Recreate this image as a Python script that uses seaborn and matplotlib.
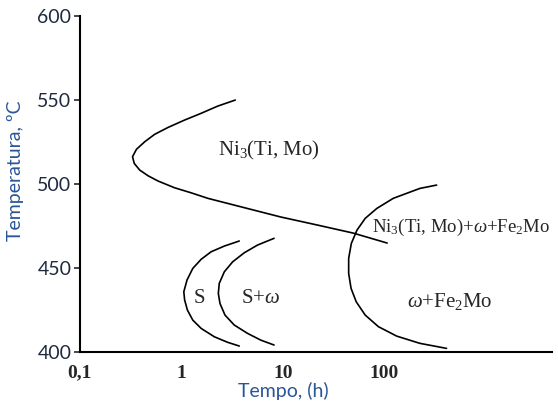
import pandas as pd
import matplotlib.pyplot as plt
import seaborn as sns

# curves: time (h) and temperature (C)
ni3_t = [3.41, 2.29, 1.57, 1.08, 0.741, 0.547, 0.437, 0.362, 0.331, 0.344, 0.390, 0.472, 0.591,
         0.859, 1.25, 1.83, 4.15, 9.56, 22.0, 49.7, 107]
ni3_T = [550, 546.4, 542.1, 538.1, 533.7, 529.6, 525.2, 520.7, 516.3, 512.3, 508.3, 504.9, 501.8,
         497.8, 494.8, 491.5, 486.0, 480.4, 475.6, 470.8, 464.9]

s_t = [3.73, 2.66, 1.97, 1.57, 1.30, 1.14, 1.06, 1.08, 1.15, 1.30, 1.57, 2.12, 2.87, 3.73]
s_T = [466.1, 463.1, 459.7, 455.2, 449.8, 442.9, 435.9, 431.0, 425.0, 419.0, 414.1, 409.1, 405.8, 403.6]

sw_t = [8.22, 5.65, 4.18, 3.21, 2.66, 2.37, 2.32, 2.41, 2.70, 3.33, 4.51, 6.09, 8.22]
sw_T = [467.7, 463.7, 459.1, 453.7, 447.8, 440.9, 434.9, 428.9, 422.0, 416.1, 411.1, 407.1, 404.2]

fe_t = [329, 225, 167, 123, 84.7, 65.1, 54.0, 47.5, 44.7, 44.7, 47.2, 53.1, 65.1, 87.9, 133, 225, 412]
fe_T = [499.4, 497.4, 494.5, 491.5, 485.5, 479.6, 472.6, 464.7, 455.8, 446.8, 437.9, 429.9, 422.0,
        415.1, 409.5, 405.2, 402.2]

x_ticks = [0.1, 1, 10, 100]
x_labels = ["0,1", "1", "10", "100"]
y_ticks = [400, 450, 500, 550, 600]

curves = pd.concat([
    pd.DataFrame({"t": ni3_t, "T": ni3_T, "curve": "ni3"}),
    pd.DataFrame({"t": s_t, "T": s_T, "curve": "s"}),
    pd.DataFrame({"t": sw_t, "T": sw_T, "curve": "sw"}),
    pd.DataFrame({"t": fe_t, "T": fe_T, "curve": "fe"}),
])

sns.set_style("ticks")
plt.rcParams["font.family"] = ["Lato", "DejaVu Sans"]
plt.rcParams["mathtext.fontset"] = "custom"
plt.rcParams["mathtext.rm"] = "Liberation Serif"
plt.rcParams["mathtext.it"] = "Liberation Serif:italic"

fig, ax = plt.subplots(figsize=(5.58, 4.01), dpi=100)
fig.subplots_adjust(left=0.143, right=0.989, top=0.960, bottom=0.122)

sns.lineplot(data=curves, x="t", y="T", units="curve", estimator=None,
             sort=False, color="black", lw=1.2, ax=ax)

ax.set_xscale("log")
ax.set_xlim(0.1, 4500)
ax.set_ylim(400, 600)
ax.set_xticks(x_ticks)
ax.set_xticklabels(x_labels, family="Liberation Serif", fontweight="bold", fontsize=14)
ax.minorticks_off()
ax.tick_params(axis="x", length=0, pad=9)
ax.set_yticks(y_ticks)
ax.tick_params(axis="y", length=4, width=1.2, labelsize=14, labelcolor="#1e2a40", pad=2)

for side in ["top", "right"]:
    ax.spines[side].set_visible(False)
for side in ["left", "bottom"]:
    ax.spines[side].set_linewidth(1.5)
    ax.spines[side].set_color("black")

blue = "#2a5597"
ax.set_ylabel("Temperatura, ºC", color=blue, fontsize=14)
ax.set_xlabel("Tempo, (h)", color=blue, fontsize=14)
ax.yaxis.set_label_coords(-0.118, 0.54)
ax.xaxis.set_label_coords(0.432, -0.088)

serif = dict(family="Liberation Serif", fontsize=15, ha="center", va="center")
ax.text(7.3, 520, "Ni$_3$(Ti, Mo)", **serif)
ax.text(76, 474, "Ni$_3$(Ti, Mo)+$\\omega$+Fe$_2$Mo", **dict(serif, ha="left", fontsize=13.5))
ax.text(1.5, 432, "S", **serif)
ax.text(6.1, 432, "S+$\\omega$", **serif)
ax.text(445, 430, "$\\omega$+Fe$_2$Mo", **serif)

fig.savefig("out.png")
